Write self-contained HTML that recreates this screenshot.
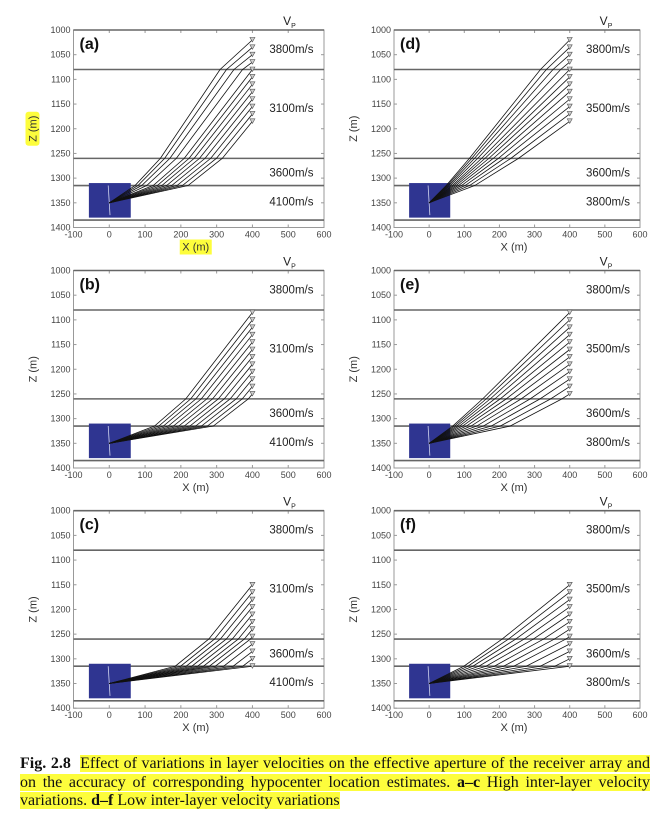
<!DOCTYPE html>
<html><head><meta charset="utf-8">
<style>
body{margin:0;background:#fff;width:668px;height:817px;overflow:hidden;position:relative;font-family:"Liberation Sans",sans-serif}
#cap{position:absolute;left:20px;top:755px;width:630px;font-family:"Liberation Serif",serif;font-size:16px;line-height:18.7px;color:#111}
#cap div{white-space:nowrap}
#cap .j{text-align:justify;text-align-last:justify;white-space:normal}
.hl{background:#fdfd3c}
</style></head><body>
<svg id="fig" width="668" height="750" style="position:absolute;left:0;top:0" xmlns="http://www.w3.org/2000/svg"></svg>
<div id="cap">
<div class="j"><b>Fig. 2.8</b>&nbsp; <span class="hl">Effect of variations in layer velocities on the effective aperture of the receiver array and</span></div>
<div class="j"><span class="hl">on the accuracy of corresponding hypocenter location estimates. <b>a–c</b> High inter-layer velocity</span></div>
<div><span class="hl">variations. <b>d–f</b> Low inter-layer velocity variations</span></div>
</div>
<script>
const panelLabels=["a","b","c","d","e","f"];
const topVel=[3800,3800,3800,3800,3800,3800];
const midVel=[3100,3100,3100,3500,3500,3500];
const lowVel=[3600,3600,3600,3600,3600,3600];
const srcVel=[4100,4100,4100,3800,3800,3800];
const firstRecZ=[1020,1085,1150,1020,1085,1150];
const recSpacing=15, recCount=12, recX=400;
const interfaces=[1080,1260,1315,1385];
const srcX=0, srcZ=1350;
const xTicks=[-100,0,100,200,300,400,500,600];
const yTicks=[1000,1050,1100,1150,1200,1250,1300,1350,1400];
const boxX=[-57,60], boxZ=[1310,1380];

const NS="http://www.w3.org/2000/svg";
const svg=document.getElementById('fig');
function mk(t,a,p){const e=document.createElementNS(NS,t);for(const k in a)e.setAttribute(k,a[k]);(p||svg).appendChild(e);return e;}
const tops=[30,270.5,510.7], H=197.5, lefts=[73.5,394], W=[250.5,246];

function rayPath(zr,vels){
  const bounds=[srcZ,interfaces[2],interfaces[1],interfaces[0]];
  const vs=[vels[3],vels[2],vels[1],vels[0]];
  const segs=[];
  for(let i=0;i<4;i++){const zb=bounds[i], zt=(i<3?bounds[i+1]:-1e9);
    const end=Math.max(zt,zr); if(zb<=zr) break; segs.push([zb-end,vs[i]]); if(zr>=zt) break;}
  const vmax=Math.max(...segs.map(s=>s[1]));
  let lo=0,hi=1/vmax*0.999999;
  const X=p=>segs.reduce((s,[h,v])=>{const sn=p*v;return s+h*sn/Math.sqrt(1-sn*sn);},0);
  for(let k=0;k<80;k++){const m=(lo+hi)/2; if(X(m)<recX)lo=m; else hi=m;}
  const p=(lo+hi)/2; const pts=[[srcX,srcZ]]; let x=srcX,z=srcZ;
  segs.forEach(([h,v])=>{const sn=p*v;x+=h*sn/Math.sqrt(1-sn*sn);z-=h;pts.push([x,z]);});
  return pts;
}

for(let i=0;i<6;i++){
  const col=i<3?0:1,row=i%3;
  const L=lefts[col],T=tops[row],w=W[col];
  const sx=v=>L+(v+100)/700*w, sy=v=>T+(v-1000)/400*H;
  const g=mk('g',{});
  
  
  const fr=mk('rect',{x:L,y:T,width:w,height:H,fill:'none',stroke:'#999','stroke-width':1},g);
  
  xTicks.forEach(t=>{
    mk('line',{x1:sx(t),x2:sx(t),y1:T+H,y2:T+H-3,stroke:'#999'},g);mk('line',{x1:sx(t),x2:sx(t),y1:T,y2:T+3,stroke:'#999'},g);
    const tx=mk('text',{x:sx(t),y:T+H+10,'font-size':9,'text-anchor':'middle',fill:'#444'},g);tx.textContent=t;
    
  });
  yTicks.forEach(t=>{
    mk('line',{x1:L,x2:L+3,y1:sy(t),y2:sy(t),stroke:'#999'},g);mk('line',{x1:L+w,x2:L+w-3,y1:sy(t),y2:sy(t),stroke:'#999'},g);
    const tx=mk('text',{x:L-3,y:sy(t)+3,'font-size':9,'text-anchor':'end',fill:'#444'},g);tx.textContent=t;
    
  });
  [1000].concat(interfaces).forEach(z=>{const l=mk('line',{x1:L,x2:L+w,y1:sy(z),y2:sy(z),stroke:'#666','stroke-width':1.6},g);
    });
  const bx=mk('rect',{x:sx(boxX[0]),y:sy(boxZ[0]),width:sx(boxX[1])-sx(boxX[0]),height:sy(boxZ[1])-sy(boxZ[0]),fill:'#2f3591'},g);
  
  mk('line',{x1:sx(-3),y1:sy(1315),x2:sx(2),y2:sy(1375),stroke:'#cfd3ee','stroke-width':0.8},g);
  const vels=[topVel[i],midVel[i],lowVel[i],srcVel[i]];
  for(let r=0;r<recCount;r++){
    const zr=firstRecZ[i]+r*recSpacing;
    const pts=rayPath(zr,vels);
    const pl=mk('polyline',{points:pts.map(p=>sx(p[0])+','+sy(p[1])).join(' '),fill:'none',stroke:'#111','stroke-width':0.8},g);
    
    const X=sx(recX),Y=sy(zr);
    const tri=mk('polygon',{points:`${X-2.5},${Y-2.5} ${X+2.5},${Y-2.5} ${X},${Y+2}`,fill:'#ccc',stroke:'#555','stroke-width':0.6},g);
    
  }
  const lx=L+w*0.87;
  const labs=[[topVel[i],1038],[midVel[i],1158],[lowVel[i],1289],[srcVel[i],1347]];
  labs.forEach(([v,z])=>{const t=mk('text',{x:lx,y:sy(z)+4,'font-size':11.5,'text-anchor':'middle',fill:'#222'},g);t.textContent=v+'m/s';
    });
  const vp=mk('text',{x:lx-2,y:T-5,'font-size':12,'text-anchor':'middle',fill:'#222'},g);vp.innerHTML='V<tspan font-size="7" dy="3">P</tspan>';
  
  const pl=mk('text',{x:L+6,y:T+19,'font-size':16,'font-weight':'bold',fill:'#111'},g);pl.textContent='('+panelLabels[i]+')';
  
  const xc=L+w/2-3,xy=T+H+23;
  if(i===0) mk('rect',{x:xc-16,y:xy-11,width:32,height:15,fill:'#fdfd3c'},g);
  const xt=mk('text',{x:xc,y:xy,'font-size':11,'text-anchor':'middle',fill:'#333'},g);xt.textContent='X (m)';
  
  const yx=L-37,yc=T+H/2;
  if(i===0) mk('rect',{x:yx-11,y:yc-17,width:14,height:34,fill:'#fdfd3c',rx:3},g);
  const yt=mk('text',{x:yx,y:yc,'font-size':11,'text-anchor':'middle',fill:'#333',transform:`rotate(-90 ${yx} ${yc})`},g);yt.textContent='Z (m)';
  
}
</script>
</body></html>
